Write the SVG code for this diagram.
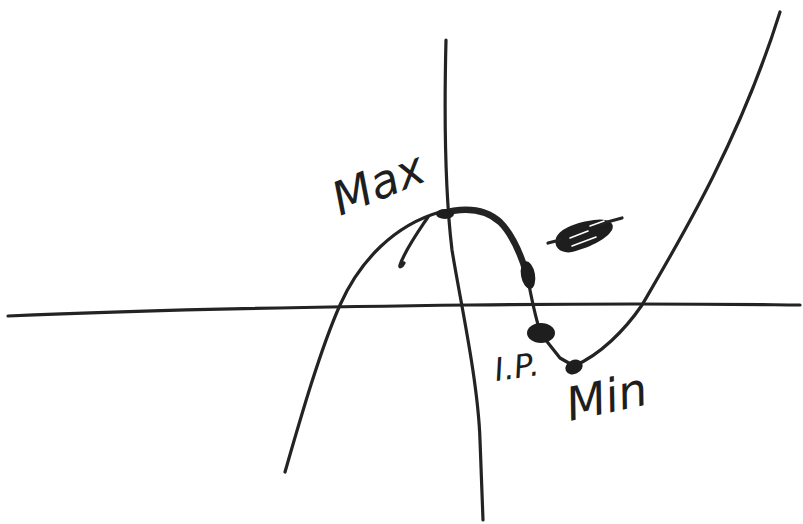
<svg xmlns="http://www.w3.org/2000/svg" width="803" height="524" viewBox="0 0 803 524">
<style>
.ln{fill:none;stroke:#232323;stroke-width:3.2;stroke-linecap:round;stroke-linejoin:round}
.bl{fill:#1e1e1e}
.lb{font-family:"DejaVu Sans","Liberation Sans",sans-serif;fill:#1e1e1e;font-style:italic}
</style>
<rect width="803" height="524" fill="#ffffff"/>
<g id="axes">
<path class="ln" d="M8,316 C120,311 300,307 470,305 S700,304 800,305"/>
<path class="ln" d="M446,40 C444,120 446,200 452,250 C460,300 478,380 480,440 L483,520"/>
</g>
<g id="curve">
<path class="ln" d="M285,472 C300,420 320,350 340,305 C360,260 395,225 440,212 C460,208 482,206 500,222 C514,236 522,258 527,275 C531,295 535,318 541,334 L560,358 L574,366 C600,355 625,330 642,305 C680,240 740,140 780,12"/>
<path class="ln" d="M428,217 C418,232 405,250 400,265 C399,268 402,267 404,263"/>
<path class="ln" d="M440,214 C460,208 482,206 500,222 C514,236 522,258 527,275" style="stroke-width:6.5"/>
</g>
<g id="points">
<ellipse class="bl" cx="445" cy="214" rx="9" ry="5"/>
<ellipse class="bl" cx="528" cy="275" rx="7" ry="14" transform="rotate(-10 528 275)"/>
<ellipse class="bl" cx="541" cy="333" rx="14" ry="10"/>
<ellipse class="bl" cx="574" cy="367" rx="9" ry="7" transform="rotate(-25 574 367)"/>
</g>
<g id="scribble">
<path class="bl" d="M556,238 C560,228 578,222 594,220 C606,218 616,222 612,230 C606,240 588,248 572,252 C562,254 553,248 556,238 Z"/>
<path class="ln" d="M548,243 L560,240 M600,224 L622,218"/>
<path d="M570,238 L588,231 M572,246 L596,237 M590,226 L604,221" stroke="#ffffff" stroke-width="1.6" fill="none" stroke-linecap="round"/>
</g>
<g id="labels">
<text class="lb" x="340" y="216" font-size="46" transform="rotate(-22 340 216)">Max</text>
<text class="lb" x="496" y="381" font-size="32" transform="rotate(-8 496 381)">I.P.</text>
<text class="lb" x="570" y="421" font-size="46" transform="rotate(-12 570 421)">Min</text>
</g>
</svg>
